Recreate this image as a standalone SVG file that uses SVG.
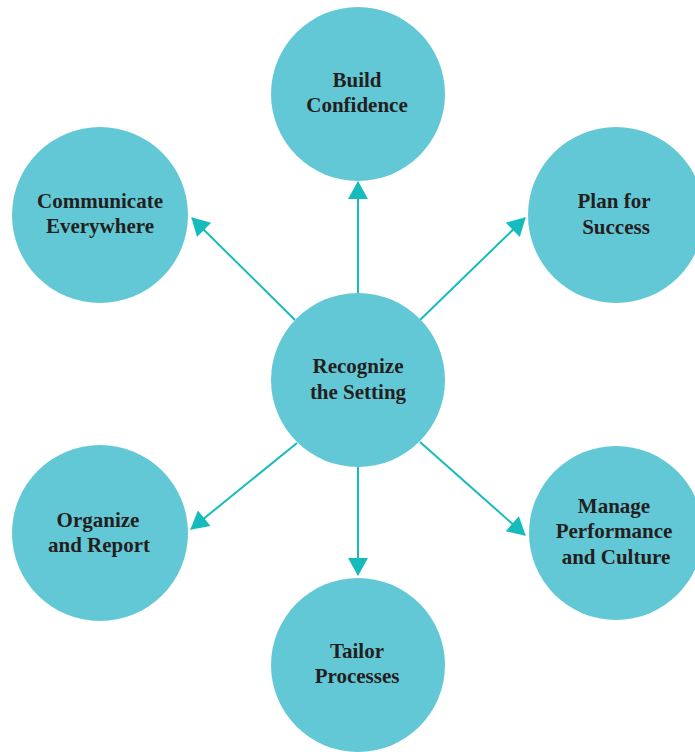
<svg xmlns="http://www.w3.org/2000/svg" width="695" height="752" viewBox="0 0 695 752">
<style>
.n{fill:#63C8D6}
.t{font-family:"Liberation Serif","Times New Roman",serif;font-weight:bold;font-size:21px;fill:#231F20;text-anchor:middle}
.c{stroke:#16BCBC;stroke-width:2;fill:none;marker-end:url(#ah)}
</style>
<defs>
<marker id="ah" markerUnits="userSpaceOnUse" markerWidth="20" markerHeight="20" viewBox="0 0 18 20" refX="17" refY="10" orient="auto">
<path d="M0,0 L18,10 L0,20 Z" fill="#16BCBC"/>
</marker>
</defs>
<rect width="695" height="752" fill="#fff"/>
<g id="connectors">
<line class="c" x1="358" y1="293" x2="358" y2="182"/>
<line class="c" x1="295" y1="320" x2="192" y2="218"/>
<line class="c" x1="420" y1="320" x2="525" y2="218"/>
<line class="c" x1="297" y1="443" x2="191" y2="529"/>
<line class="c" x1="358" y1="467" x2="358" y2="575"/>
<line class="c" x1="420" y1="442" x2="525" y2="535"/>
</g>
<g id="center">
<circle class="n" cx="358" cy="380" r="87"/>
<text class="t" x="358" y="373">Recognize</text>
<text class="t" x="358" y="399">the Setting</text>
</g>
<g id="build">
<circle class="n" cx="358" cy="94" r="87"/>
<text class="t" x="357" y="87">Build</text>
<text class="t" x="357" y="112">Confidence</text>
</g>
<g id="communicate">
<circle class="n" cx="100" cy="215" r="88"/>
<text class="t" x="100" y="208">Communicate</text>
<text class="t" x="100" y="233">Everywhere</text>
</g>
<g id="plan">
<circle class="n" cx="616" cy="215" r="88"/>
<text class="t" x="614" y="208">Plan for</text>
<text class="t" x="616" y="234">Success</text>
</g>
<g id="organize">
<circle class="n" cx="100" cy="533" r="88"/>
<text class="t" x="98" y="527">Organize</text>
<text class="t" x="99" y="552">and Report</text>
</g>
<g id="manage">
<circle class="n" cx="616" cy="533" r="87"/>
<text class="t" x="614" y="513">Manage</text>
<text class="t" x="614" y="538">Performance</text>
<text class="t" x="616" y="564">and Culture</text>
</g>
<g id="tailor">
<circle class="n" cx="358" cy="665" r="87"/>
<text class="t" x="357" y="658">Tailor</text>
<text class="t" x="357" y="683">Processes</text>
</g>
</svg>
